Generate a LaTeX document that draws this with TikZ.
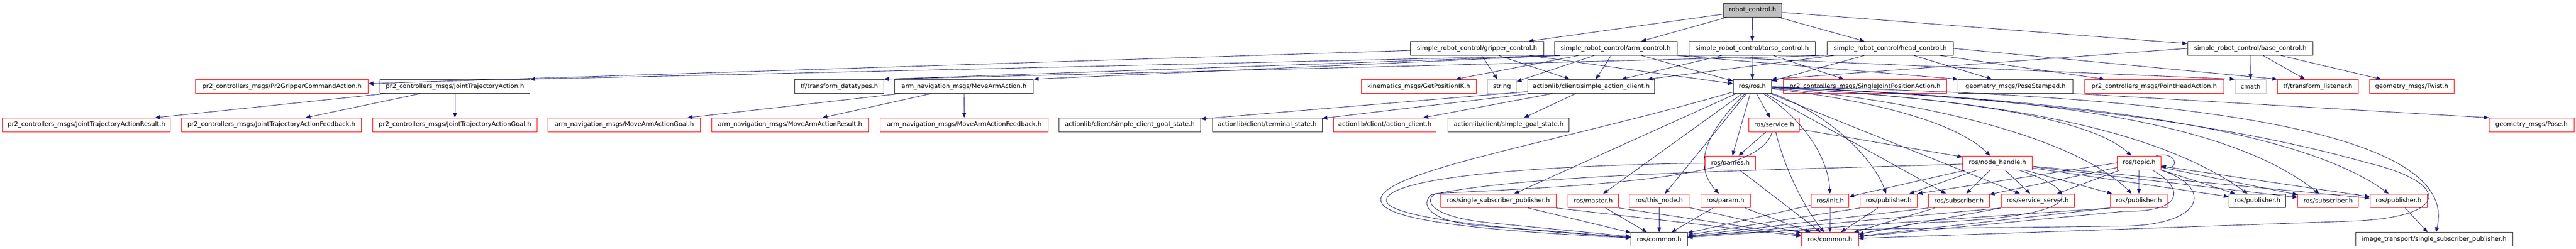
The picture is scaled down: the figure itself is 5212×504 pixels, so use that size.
\documentclass[tikz,border=0pt]{standalone}
\usepackage{fontspec}
\setmainfont{DejaVu Sans}
\usetikzlibrary{arrows.meta}
\definecolor{edgeblue}{HTML}{191970}
\definecolor{rootgray}{HTML}{BFBFBF}
\definecolor{lightborder}{HTML}{BFBFBF}
\tikzset{
  box/.style={draw, line width=1pt, inner sep=0pt, minimum height=28pt,
    font=\fontsize{12.6pt}{15pt}\selectfont, text=black},
  bbox/.style={box, draw=black!85},
  rbox/.style={box, draw=red},
  gbox/.style={box, draw=lightborder},
  rootbox/.style={box, draw=black!85, fill=rootgray},
  dep/.style={draw=edgeblue, line width=0.9pt, -{Triangle[length=10pt,width=8pt]}},
}
\newcommand\mynode[6]{\node[#5, minimum width={(#3-#2)*1pt}] (#1) at ({(#2+#3)/2},#4) {#6};}
\begin{document}
\begin{tikzpicture}[x=1pt,y=-1pt]
\useasboundingbox (0,0) rectangle (5212,504);
% row 0
\mynode{root}{3487}{3605}{20.5}{rootbox}{robot\_control.h}
% row 1
\mynode{grip}{2854}{3123}{98}{bbox}{simple\_robot\_control/gripper\_control.h}
\mynode{arm}{3145}{3393}{98}{bbox}{simple\_robot\_control/arm\_control.h}
\mynode{torso}{3417}{3673}{98}{bbox}{simple\_robot\_control/torso\_control.h}
\mynode{head}{3697}{3952}{98}{bbox}{simple\_robot\_control/head\_control.h}
\mynode{base}{4426}{4680}{98}{bbox}{simple\_robot\_control/base\_control.h}
% row 2
\mynode{pr2grip}{396}{745}{175}{rbox}{pr2\_controllers\_msgs/Pr2GripperCommandAction.h}
\mynode{jta}{769}{1072}{175}{bbox}{pr2\_controllers\_msgs/JointTrajectoryAction.h}
\mynode{tfdt}{1608}{1788}{175}{bbox}{tf/transform\_datatypes.h}
\mynode{mva}{1810}{2091}{175}{bbox}{arm\_navigation\_msgs/MoveArmAction.h}
\mynode{kin}{2754}{2987}{175}{rbox}{kinematics\_msgs/GetPositionIK.h}
\mynode{string}{3010}{3068}{175}{gbox}{string}
\mynode{sac}{3091}{3348}{175}{bbox}{actionlib/client/simple\_action\_client.h}
\mynode{rosh}{3507}{3584}{175}{bbox}{ros/ros.h}
\mynode{sjpa}{3608}{3939}{175}{rbox}{pr2\_controllers\_msgs/SingleJointPositionAction.h}
\mynode{psd}{3962}{4194}{175}{bbox}{geometry\_msgs/PoseStamped.h}
\mynode{pha}{4218}{4499}{175}{rbox}{pr2\_controllers\_msgs/PointHeadAction.h}
\mynode{cmath}{4522}{4585}{175}{gbox}{cmath}
\mynode{tfl}{4608}{4771}{175}{rbox}{tf/transform\_listener.h}
\mynode{twist}{4794}{4965}{175}{rbox}{geometry\_msgs/Twist.h}
% row 3
\mynode{jtar}{5}{345}{253}{rbox}{pr2\_controllers\_msgs/JointTrajectoryActionResult.h}
\mynode{jtaf}{367}{731}{253}{rbox}{pr2\_controllers\_msgs/JointTrajectoryActionFeedback.h}
\mynode{jtag}{754}{1087}{253}{rbox}{pr2\_controllers\_msgs/JointTrajectoryActionGoal.h}
\mynode{mvag}{1109}{1417}{253}{rbox}{arm\_navigation\_msgs/MoveArmActionGoal.h}
\mynode{mvar}{1440}{1757}{253}{rbox}{arm\_navigation\_msgs/MoveArmActionResult.h}
\mynode{mvaf}{1781}{2121}{253}{rbox}{arm\_navigation\_msgs/MoveArmActionFeedback.h}
\mynode{scgs}{2143}{2429}{253}{bbox}{actionlib/client/simple\_client\_goal\_state.h}
\mynode{ts}{2453}{2675}{253}{bbox}{actionlib/client/terminal\_state.h}
\mynode{ac}{2698}{2906}{253}{rbox}{actionlib/client/action\_client.h}
\mynode{sgs}{2930}{3175}{253}{bbox}{actionlib/client/simple\_goal\_state.h}
\mynode{service}{3538}{3641}{253}{rbox}{ros/service.h}
\mynode{pose}{5036}{5208}{253}{rbox}{geometry\_msgs/Pose.h}
% row 4
\mynode{names}{3450}{3552}{330}{rbox}{ros/names.h}
\mynode{nh}{3971}{4112}{330}{rbox}{ros/node\_handle.h}
\mynode{topic}{4284}{4372}{330}{rbox}{ros/topic.h}
% row 5
\mynode{ssp}{2915}{3148}{407}{rbox}{ros/single\_subscriber\_publisher.h}
\mynode{master}{3172}{3275}{407}{rbox}{ros/master.h}
\mynode{thisnode}{3297}{3417}{407}{rbox}{ros/this\_node.h}
\mynode{param}{3441}{3541}{407}{rbox}{ros/param.h}
\mynode{init}{3665}{3741}{407}{rbox}{ros/init.h}
\mynode{pubA}{3764}{3879}{407}{rbox}{ros/publisher.h}
\mynode{subA}{3902}{4025}{407}{rbox}{ros/subscriber.h}
\mynode{ss}{4049}{4197}{407}{rbox}{ros/service\_server.h}
\mynode{pubC}{4270}{4385}{407}{rbox}{ros/publisher.h}
\mynode{pubB}{4510}{4625}{407}{bbox}{ros/publisher.h}
\mynode{subR}{4649}{4772}{407}{rbox}{ros/subscriber.h}
\mynode{pubR}{4795}{4911}{407}{rbox}{ros/publisher.h}
% row 6
\mynode{commonB}{3300}{3414}{485}{bbox}{ros/common.h}
\mynode{commonR}{3645}{3760}{485}{rbox}{ros/common.h}
\mynode{itssp}{4766}{5084}{485}{bbox}{image\_transport/single\_subscriber\_publisher.h}

% root
\draw[dep] (root) -- (grip);
\draw[dep] (root) -- (arm);
\draw[dep] (root) -- (torso);
\draw[dep] (root) -- (head);
\draw[dep] (root) -- (base);
% gripper
\draw[dep] (grip) -- (pr2grip);
\draw[dep] (grip) -- (string);
\draw[dep] (grip) -- (sac);
\draw[dep] (grip) -- (rosh);
% arm
\draw[dep] ([xshift=12pt]arm.south west) -- (jta.north east);
\draw[dep] ([xshift=12pt]arm.south west) -- (tfdt.north east);
\draw[dep] ([xshift=12pt]arm.south west) -- (mva.north east);
\draw[dep] (arm) -- (kin);
\draw[dep] (arm) -- (string);
\draw[dep] (arm) -- (sac);
\draw[dep] (arm) -- (rosh);
\draw[dep] (arm.south east) -- (psd.north west);
\draw[dep] (arm.south east) -- (cmath.north west);
% torso
\draw[dep] (torso) -- (rosh);
\draw[dep] (torso) -- (sac);
\draw[dep] (torso) -- (sjpa);
% head
\draw[dep] (head) -- (rosh);
\draw[dep] (head) -- (sac);
\draw[dep] (head) -- (psd);
\draw[dep] (head) -- (pha);
\draw[dep] (head.south west) -- (tfdt.north east);
\draw[dep] (head.east) -- (tfl.north west);
% base
\draw[dep] (base) -- (cmath);
\draw[dep] (base) -- (tfl);
\draw[dep] (base) -- (twist);
\draw[dep] (base.west) -- (rosh.north east);
% row 2 -> row 3
\draw[dep] (jta) -- (jtar);
\draw[dep] (jta) -- (jtaf);
\draw[dep] (jta) -- (jtag);
\draw[dep] (mva) -- (mvag);
\draw[dep] (mva) -- (mvar);
\draw[dep] (mva) -- (mvaf);
\draw[dep] (sac) -- (scgs);
\draw[dep] (sac) -- (ts);
\draw[dep] (sac) -- (ac);
\draw[dep] (sac) -- (sgs);
\draw[dep] (psd.south east) -- (pose.north west);
% ros/ros.h
\draw[dep] (rosh) -- (service);
\draw[dep] (rosh) -- (names);
\draw[dep] (rosh) -- (ssp);
\draw[dep] (rosh) -- (master);
\draw[dep] (rosh) -- (thisnode);
\draw[dep] (rosh) .. controls (3440,280) and (3430,340) .. (param);
\draw[dep] (rosh) .. controls (3660,250) and (3700,330) .. (init);
\draw[dep] (rosh) .. controls (3700,230) and (3790,320) .. (pubA);
\draw[dep] (rosh) -- (subA);
\draw[dep] (rosh) -- (ss);
\draw[dep] (rosh) .. controls (3800,205) and (3960,250) .. (nh);
\draw[dep] (rosh) .. controls (3900,195) and (4220,230) .. (topic);
\draw[dep] (rosh) .. controls (3900,205) and (4200,280) .. (pubC);
\draw[dep] (rosh) .. controls (4000,200) and (4350,250) .. (pubB);
\draw[dep] (rosh) .. controls (4100,195) and (4500,240) .. (subR);
\draw[dep] (rosh) .. controls (4200,200) and (4650,260) .. (pubR);
\draw[dep] (rosh) .. controls (4400,190) and (4980,260) .. (itssp);
\draw[dep] (rosh) .. controls (4300,205) and (4650,290) .. (4790,330)
   .. controls (4960,370) and (4960,440) .. (4760,448) -- (commonR);
\draw[dep] (rosh) .. controls (3150,290) and (2770,350) .. (2795,410)
   .. controls (2810,455) and (3100,472) .. (commonB);
% service, names
\draw[dep] (service) -- (names);
\draw[dep] (service) -- (nh);
\draw[dep] (service) .. controls (3610,340) and (3650,420) .. (commonR);
\draw[dep] (service) .. controls (3560,360) and (3250,375) .. (2905,392)
   .. controls (2880,405) and (2890,440) .. (3020,452) -- (commonB);
\draw[dep] (names) -- (commonR);
\draw[dep] (names) .. controls (3100,335) and (2810,360) .. (2805,405)
   .. controls (2800,445) and (3100,468) .. (commonB);
% node_handle
\draw[dep] (nh) -- (init);
\draw[dep] (nh) -- (pubA);
\draw[dep] (nh) -- (subA);
\draw[dep] (nh) -- (ss);
\draw[dep] (nh) -- (pubC);
\draw[dep] (nh) -- (pubB);
\draw[dep] (nh) -- (subR);
\draw[dep] (nh) -- (pubR);
\draw[dep] (nh) .. controls (4220,390) and (4230,440) .. (3880,452) -- (commonR);
\draw[dep] (nh) .. controls (3600,345) and (3100,350) .. (2895,395)
   .. controls (2870,420) and (2900,455) .. (3030,460) -- (commonB);
% topic
\draw[dep] ([xshift=-10pt]topic.north east) .. controls (4405,305) and (4410,345) .. ([yshift=-6pt]topic.east);
\draw[dep] (topic) -- (pubC);
\draw[dep] (topic.west) -- (pubA.north east);
\draw[dep] (topic) -- (subA);
\draw[dep] (topic) -- (ss);
\draw[dep] (topic) -- (pubB);
\draw[dep] (topic) -- (subR);
\draw[dep] (topic) -- (pubR);
\draw[dep] (topic) .. controls (4420,380) and (4420,430) .. (4300,428) -- (commonR);
\draw[dep] (topic) .. controls (4480,380) and (4460,455) .. (4300,458)
   .. controls (3900,464) and (3600,462) .. (commonB);
% row 5 -> common
\draw[dep] (ssp) -- (commonB);
\draw[dep] (ssp.south east) -- (commonR);
\draw[dep] (master) -- (commonB);
\draw[dep] (master.south east) -- (commonR);
\draw[dep] (thisnode) -- (commonB);
\draw[dep] (thisnode) -- (commonR);
\draw[dep] (param) -- (commonB);
\draw[dep] (param) -- (commonR);
\draw[dep] (init) -- (commonR);
\draw[dep] (init) -- (commonB);
\draw[dep] (pubA) -- (commonR);
\draw[dep] (pubA.south west) -- (commonB);
\draw[dep] (subA) -- (commonR);
\draw[dep] (subA.south west) -- (commonB);
\draw[dep] (ss.south west) -- (commonR);
\draw[dep] (ss.south west) -- (commonB);
\draw[dep] (pubC.south west) -- (commonR);
\draw[dep] (pubC.south west) -- (commonB);
\draw[dep] (pubR) -- (itssp);
\end{tikzpicture}
\end{document}
